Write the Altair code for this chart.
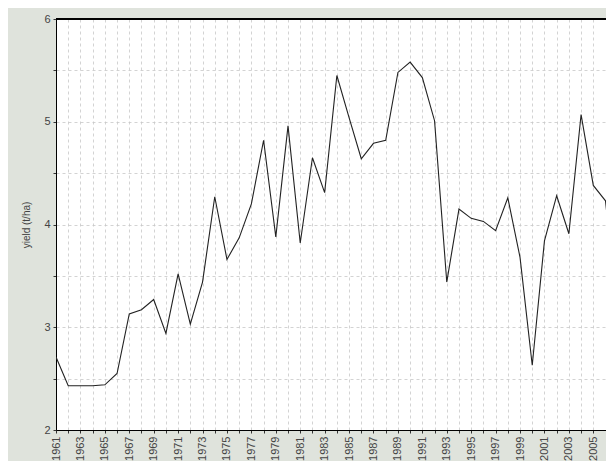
import altair as alt
import pandas as pd

years = list(range(1961, 2008))
yields = [2.71, 2.43, 2.43, 2.43, 2.44, 2.55, 3.13, 3.17, 3.27, 2.94,
          3.52, 3.03, 3.44, 4.27, 3.66, 3.87, 4.20, 4.82, 3.88, 4.96,
          3.82, 4.65, 4.31, 5.45, 5.04, 4.64, 4.79, 4.82, 5.48, 5.58,
          5.43, 5.01, 3.44, 4.15, 4.06, 4.03, 3.94, 4.26, 3.68, 2.63,
          3.84, 4.28, 3.91, 5.07, 4.38, 4.23, 3.10]

y_ticks = [2, 2.5, 3, 3.5, 4, 4.5, 5, 5.5, 6]

df = pd.DataFrame({"year": years, "yield": yields})

FONT = "Liberation Sans"
PANEL = "#dfe3dc"

x_axis = alt.Axis(
    values=years,
    labelExpr="datum.value % 2 == 1 ? datum.value : ''",
    labelAngle=-90,
    labelFontSize=11,
    labelColor="#444444",
    labelFont=FONT,
    labelPadding=3,
    tickSize=3,
    tickColor="#333333",
    domainColor="#000000",
    grid=True,
    gridColor="#c8c8c8",
    gridDash=[3, 3],
    gridWidth=0.8,
    title=None,
    labelOverlap=False,
    labelFlush=False,
)

y_axis = alt.Axis(
    values=y_ticks,
    labelExpr="datum.value % 1 == 0 ? datum.value : ''",
    labelFontSize=11,
    labelColor="#444444",
    labelFont=FONT,
    labelPadding=3,
    tickSize=3,
    tickColor="#333333",
    domainColor="#000000",
    grid=True,
    gridColor="#c8c8c8",
    gridDash=[3, 3],
    gridWidth=0.8,
    title="yield (t/ha)",
    titleFont=FONT,
    titleFontSize=10,
    titleFontWeight="normal",
    titleColor="#444444",
    titlePadding=12,
    labelFlush=False,
)

x_enc = alt.X("year:Q", scale=alt.Scale(domain=[1961, 2006.04], nice=False, zero=False), axis=x_axis)
y_enc = alt.Y("yield:Q", scale=alt.Scale(domain=[2, 6], nice=False, zero=False), axis=y_axis)

line = (
    alt.Chart(df)
    .mark_line(color="#222222", strokeWidth=1.1, clip=True)
    .encode(x=x_enc, y=y_enc)
)

top_edge = (
    alt.Chart(df)
    .mark_rule(color="#000000", strokeWidth=1)
    .encode(y=alt.datum(6))
)

chart = (
    alt.layer(line, top_edge)
    .properties(
        width=550,
        height=411,
        background=PANEL,
        padding={"left": 48, "top": 11, "right": 0, "bottom": 31},
        autosize=alt.AutoSizeParams(type="none"),
    )
    .configure_view(fill="white", stroke="#000000", strokeWidth=1)
)

chart.save("out.html", embed_options={"renderer": "svg", "actions": False})
